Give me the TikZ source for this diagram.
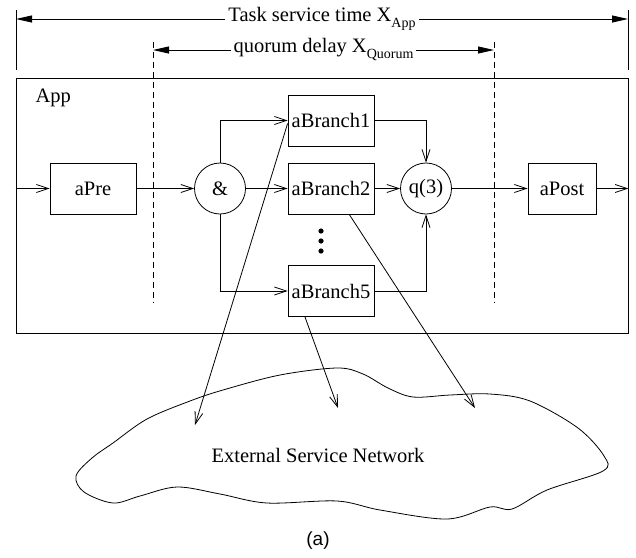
\documentclass[tikz,border=0pt]{standalone}
\usepackage{fontspec}
\setmainfont{Liberation Serif}
\newfontfamily\capfont{Liberation Sans}
\usetikzlibrary{arrows.meta,calc}
\begin{document}
\begin{tikzpicture}[x=1pt,y=-1pt,
  every node/.style={font=\fontsize{20.5}{24}\selectfont},
  thin line/.style={line width=0.8pt},
  box/.style={draw, thin line, minimum width=86pt, minimum height=51pt, inner sep=0pt},
  junc/.style={draw, circle, thin line, minimum size=51pt, inner sep=0pt},
  flow/.style={thin line, -{Straight Barb[length=12pt,width=8pt,line width=0.8pt]}},
  span/.style={thin line, {Triangle[length=16pt,width=7pt]}-{Triangle[length=16pt,width=7pt]}},
  guide/.style={thin line, dash pattern=on 6pt off 4pt},
  label/.style={fill=white, inner sep=3pt},
  sub/.style={}]
\useasboundingbox (0,0) rectangle (636,557);

% time spans
\coordinate (tl) at (16,19);
\coordinate (tr) at (628,19);
\coordinate (ql) at (153,50);
\coordinate (qr) at (494,50);
\draw[thin line] (16,10) -- (16,70);
\draw[thin line] (628,10) -- (628,70);
\draw[guide] (153,42) -- (153,303);
\draw[guide] (494,42) -- (494,303);
\draw[span] (tl) -- node[label] (tlab) {Task service time X\raisebox{-6pt}{\fontsize{14}{14}\selectfont App}} (tr);
\draw[span] (ql) -- node[label] (qlab) {quorum delay X\raisebox{-6pt}{\fontsize{14}{14}\selectfont Quorum}} (qr);

% application box
\node[draw, thin line, minimum width=612pt, minimum height=255pt, inner sep=0pt] (app) at (322,205.5) {};
\node[anchor=west] (applab) at (32,98) {App};

% activities
\node[box] (pre) at (93,188.5) {aPre};
\node[box, minimum width=68pt] (post) at (562,188.5) {aPost};
\node[junc] (and) at (220,188.5) {\&};
\node[junc] (q) at (426,188.5) {q(3)};
\node[box] (b1) at (331,120.5) {aBranch1};
\node[box] (b2) at (331,188.5) {aBranch2};
\node[box] (b5) at (331,291) {aBranch5};

% elided branches
\fill (321,231) circle (2.6pt);
\fill (321,241) circle (2.6pt);
\fill (321,251) circle (2.6pt);

% control flow
\draw[flow] (app.west |- pre) -- (pre.west);
\draw[flow] (pre) -- (and);
\draw[flow] (and.north) |- (b1.west);
\draw[flow] (and) -- (b2);
\draw[flow] (and.south) |- (b5.west);
\draw[flow] (b1.east) -| (q.north);
\draw[flow] (b2) -- (q);
\draw[flow] (b5.east) -| (q.south);
\draw[flow] (q) -- (post);
\draw[flow] (post.east) -- (app.east |- post);

% external network
\draw[thin line] plot[smooth cycle, tension=0.55] coordinates {
  (76,476) (92,458) (113,443) (147,419) (190,401) (223,390) (280,375)
  (337,368) (363,374) (388,388) (413,397) (450,395) (490,394) (530,401)
  (578,428) (604,456) (603,471) (547,490) (512,509) (490,507) (447,519)
  (380,510) (337,501) (267,503) (220,494) (177,487) (140,496) (113,503) (84,492)};
\node (net) at (318,455) {External Service Network};

\coordinate (t1) at (195,425);
\coordinate (t2) at (338,408);
\coordinate (t3) at (475,408);
\draw[flow] ($(b1.west)+(0,3)$) -- (t1);
\draw[flow] ($(b5.south west)!0.2!(b5.south east)$) -- (t2);
\draw[flow] ($(b2.south west)!0.71!(b2.south east)$) -- (t3);

\node[font=\capfont\fontsize{19}{22}\selectfont] (cap) at (318,541) {(a)};
\end{tikzpicture}
\end{document}
